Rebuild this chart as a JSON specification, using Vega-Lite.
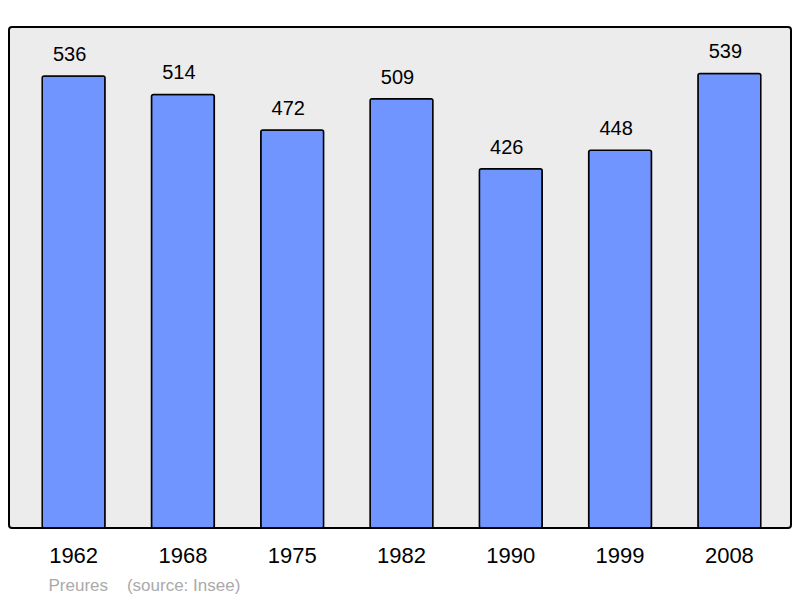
{
  "$schema": "https://vega.github.io/schema/vega-lite/v6.json",
  "width": 782,
  "height": 501,
  "autosize": {"type": "none"},
  "padding": {"left": 9, "top": 27, "right": 9, "bottom": 70},
  "background": "white",
  "config": {
    "font": "Liberation Sans",
    "view": {"fill": "#ececec", "stroke": "#000000", "strokeWidth": 2, "cornerRadius": 3}
  },
  "data": {
    "values": [
      {"year": "1962", "pop": 536},
      {"year": "1968", "pop": 514},
      {"year": "1975", "pop": 472},
      {"year": "1982", "pop": 509},
      {"year": "1990", "pop": 426},
      {"year": "1999", "pop": 448},
      {"year": "2008", "pop": 539}
    ]
  },
  "encoding": {
    "x": {
      "field": "year",
      "type": "ordinal",
      "sort": null,
      "scale": {"paddingInner": 0.425, "paddingOuter": 0.29, "range": [1.5, 783.5]},
      "axis": {
        "domain": false,
        "ticks": false,
        "grid": false,
        "labelAngle": 0,
        "labelFontSize": 22,
        "labelColor": "#000000",
        "labelPadding": 17,
        "title": "Preures\u00a0\u00a0\u00a0\u00a0(source: Insee)",
        "titleColor": "#aaaaaa",
        "titleFontSize": 17,
        "titleFontWeight": "normal",
        "titleAlign": "left",
        "titleAnchor": "start",
        "titleX": 39,
        "titleY": 62,
        "titleBaseline": "alphabetic"
      }
    },
    "y": {
      "field": "pop",
      "type": "quantitative",
      "scale": {"domain": [0, 594], "nice": false, "zero": true},
      "axis": null
    }
  },
  "layer": [
    {
      "mark": {"type": "bar", "fill": "#7195ff", "stroke": "#000000", "strokeWidth": 1.5, "cornerRadius": 2}
    },
    {
      "mark": {"type": "text", "fontSize": 20, "color": "#000000", "baseline": "alphabetic", "dy": -15, "dx": -4},
      "encoding": {"text": {"field": "pop", "type": "quantitative"}}
    }
  ]
}
